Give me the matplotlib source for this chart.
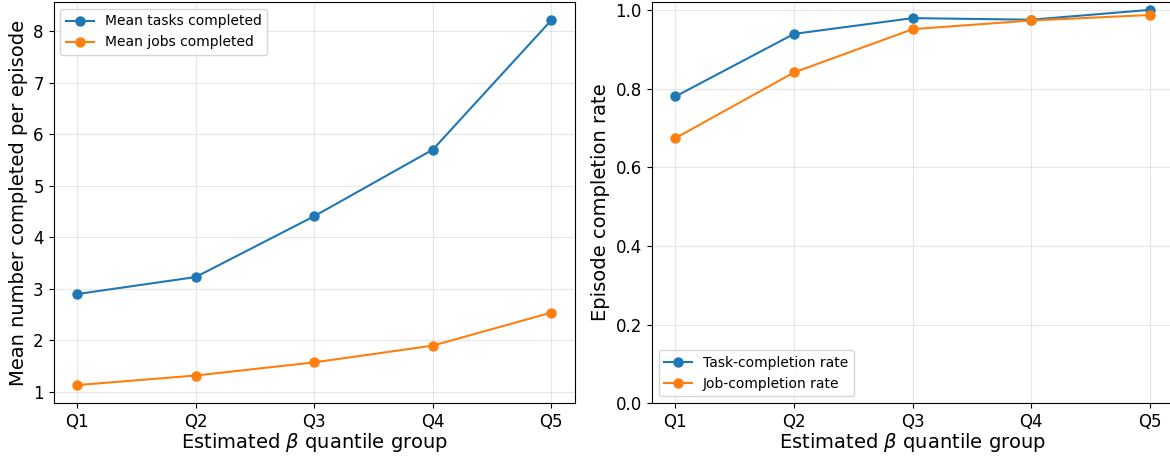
import matplotlib.pyplot as plt
import numpy as np

# grupos por cuantil de beta estimado
grupos = ["Q1", "Q2", "Q3", "Q4", "Q5"]

# medias por episodio
tareas_medias = [2.90, 3.23, 4.41, 5.70, 8.21]
trabajos_medios = [1.135, 1.32, 1.575, 1.90, 2.54]

# tasas de episodios completados
tasa_tareas = [0.780, 0.939, 0.979, 0.975, 1.000]
tasa_trabajos = [0.674, 0.841, 0.951, 0.973, 0.987]

AZUL = "#1f77b4"
NARANJA = "#ff7f0e"

W, H = 1170, 457
fig = plt.figure(figsize=(W / 100, H / 100), dpi=100)

# posiciones en pixeles: (izq, abajo, ancho, alto)
ax1 = fig.add_axes([53.5 / W, (H - 403.3) / H, 521.5 / W, 401.3 / H])
ax2 = fig.add_axes([651.7 / W, (H - 403.3) / H, 522 / W, 401.3 / H])

x = np.arange(len(grupos))

ax1.plot(x, tareas_medias, "-o", color=AZUL, lw=1.5, ms=6.5, label="Mean tasks completed")
ax1.plot(x, trabajos_medios, "-o", color=NARANJA, lw=1.5, ms=6.5, label="Mean jobs completed")
ax1.set_ylabel("Mean number completed per episode", fontsize=14)
ax1.legend(loc="upper left", fontsize=10)

ax2.plot(x, tasa_tareas, "-o", color=AZUL, lw=1.5, ms=6.5, label="Task-completion rate")
ax2.plot(x, tasa_trabajos, "-o", color=NARANJA, lw=1.5, ms=6.5, label="Job-completion rate")
ax2.set_ylim(0, 1.02)
ax2.set_ylabel("Episode completion rate", fontsize=14)
ax2.legend(loc="lower left", fontsize=10)

for ax in (ax1, ax2):
    ax.set_xticks(x)
    ax.set_xticklabels(grupos)
    ax.set_xlabel(r"Estimated $\beta$ quantile group", fontsize=14, labelpad=0)
    ax.tick_params(labelsize=12)
    ax.grid(True, alpha=0.3)

fig.savefig("out.png", dpi=100)
